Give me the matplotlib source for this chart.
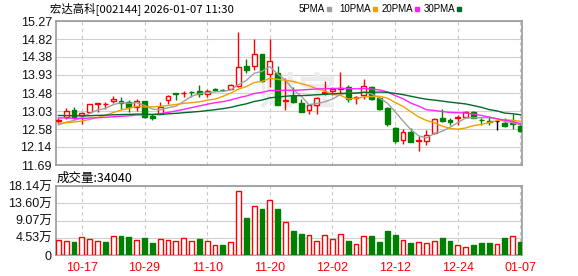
import matplotlib
matplotlib.use('Agg')
import matplotlib.pyplot as plt
from matplotlib.lines import Line2D
import numpy as np
import pandas as pd

plt.rcParams['font.family'] = ['Liberation Sans', 'Noto Sans CJK SC']

title = '宏达高科[002144] 2026-01-07 11:30'

# daily k-line, 2025-10-14 .. 2026-01-07
opens = [12.78, 12.89, 13.06, 12.93, 13.02, 13.21, 13.20, 13.29, 13.28, 13.26,
         13.14, 13.28, 12.90, 12.97, 13.30, 13.47, 13.48, 13.51, 13.52, 13.46,
         13.57, 13.565, 13.585, 13.65, 14.16, 14.16, 14.44, 13.96, 13.98, 13.28,
         13.40, 13.24, 13.05, 13.17, 13.48, 13.54, 13.58, 13.63, 13.345, 13.44,
         13.63, 13.36, 13.10, 12.62, 12.32, 12.50, 12.29, 12.29, 12.49, 12.85,
         12.80, 12.86, 12.88, 13.02, 12.81, 12.77, 12.78, 12.735, 12.73, 12.66]
closes = [12.80, 13.03, 12.85, 12.99, 13.20, 13.22, 13.21, 13.33, 13.24, 13.13,
          13.28, 12.89, 12.87, 13.13, 13.40, 13.46, 13.49, 13.50, 13.46, 13.53,
          13.56, 13.555, 13.67, 14.12, 14.06, 14.45, 13.79, 14.27, 13.19, 13.30,
          13.25, 13.02, 13.17, 13.36, 13.50, 13.59, 13.60, 13.33, 13.37, 13.65,
          13.34, 13.09, 12.70, 12.29, 12.51, 12.27, 12.31, 12.43, 12.84, 12.79,
          12.77, 12.88, 13.02, 12.86, 12.80, 12.76, 12.78, 12.65, 12.72, 12.53]
highs = [12.85, 13.10, 13.12, 13.02, 13.21, 13.23, 13.26, 13.40, 13.37, 13.30,
         13.34, 13.29, 12.97, 13.26, 13.44, 13.49, 13.54, 13.52, 13.67, 13.58,
         13.60, 13.58, 13.71, 15.00, 14.33, 14.82, 14.45, 14.82, 14.14, 13.85,
         13.62, 13.33, 13.21, 13.37, 13.79, 13.63, 13.99, 13.685, 13.40, 13.82,
         13.66, 13.38, 13.12, 12.63, 12.58, 12.61, 12.41, 12.55, 12.86, 13.09,
         12.86, 12.94, 13.04, 13.04, 12.86, 12.91, 12.80, 12.86, 12.97, 12.72]
lows = [12.73, 12.84, 12.84, 12.70, 13.00, 13.02, 13.07, 13.22, 13.07, 13.00,
        13.04, 12.87, 12.80, 12.95, 13.21, 13.30, 13.38, 13.38, 13.38, 13.38,
        13.52, 13.52, 13.57, 13.63, 13.98, 14.04, 13.75, 13.63, 13.17, 13.05,
        13.22, 13.00, 12.97, 12.97, 13.42, 13.42, 13.46, 13.26, 13.21, 13.34,
        13.30, 13.05, 12.66, 12.24, 12.22, 12.26, 12.03, 12.18, 12.47, 12.76,
        12.68, 12.68, 12.87, 12.85, 12.69, 12.68, 12.55, 12.64, 12.595, 12.51]
# volume in 万
volumes = [4.0, 3.75, 3.5, 4.7, 4.2, 3.75, 3.5, 5.0, 5.05, 4.8,
           4.0, 4.5, 3.2, 4.2, 4.0, 3.75, 4.45, 3.75, 4.1, 3.75,
           2.6, 2.7, 3.4, 16.7, 9.8, 12.8, 12.1, 14.4, 12.1, 8.6,
           6.4, 5.6, 5.2, 3.75, 5.2, 4.2, 5.5, 3.75, 2.9, 5.0,
           5.05, 3.5, 6.4, 5.3, 4.0, 3.2, 3.5, 3.2, 3.75, 4.5,
           3.75, 2.6, 2.2, 2.7, 3.2, 3.2, 3.0, 4.5, 5.05, 3.404]
last_volume = 34040
# closes before the first day shown (needed by the moving averages)
pre_closes = [13.04, 13.00, 13.12, 13.05, 12.95, 13.08, 13.02, 13.10, 12.98, 13.06,
              13.00, 13.10, 13.04, 12.96, 13.08, 13.02, 13.05, 12.98, 12.92, 12.85,
              12.79, 12.70, 12.74, 12.80, 12.72, 12.70, 12.64, 12.62, 12.68]

price_ticks = [11.69, 12.14, 12.58, 13.03, 13.48, 13.93, 14.38, 14.82, 15.27]
vol_ticks = [0, 4.53, 9.07, 13.60, 18.14]
vol_tick_labels = ['0', '4.53万', '9.07万', '13.60万', '18.14万']
date_labels = ['10-17', '10-29', '11-10', '11-20', '12-02', '12-12', '12-24', '01-07']
ma_windows = [5, 10, 20, 30]
ma_names = ['5PMA', '10PMA', '20PMA', '30PMA']
ma_colors = ['#a0a0a0', '#f0a000', '#ff22ff', '#006a2a']

RED = '#ff0000'
GREEN = '#008000'

dates = pd.bdate_range('2025-10-14', '2026-01-07')
dates = dates.drop(pd.to_datetime(['2026-01-01', '2026-01-02']))
labels = list(dates.strftime('%m-%d'))
x = np.arange(len(dates))
o = np.array(opens); c = np.array(closes)
h = np.array(highs); l = np.array(lows)
v = np.array(volumes)

all_close = pd.Series(pre_closes + closes)
n_pre = len(pre_closes)

fig = plt.figure(figsize=(5.78, 2.76), dpi=100)
ax = fig.add_axes([56/578, 1-165/276, 466/578, 144/276])
axv = fig.add_axes([56/578, 1-255/276, 466/578, 69/276])

tick_idx = [labels.index(d) for d in date_labels]

for a in (ax, axv):
    a.set_xlim(-0.3, len(x) - 0.8)
    for s in a.spines.values():
        s.set_color('#999999')
        s.set_linewidth(1.2)
    a.tick_params(length=0, labelsize=9, colors='#111111', pad=3)
    a.set_axisbelow(True)
    a.grid(axis='y', color='#d0d0d0', lw=0.8)
    for t in tick_idx:
        a.axvline(t, color='#c8c8c8', lw=0.8, ls=(0, (3, 3)), zorder=0)

# candles
ccol = np.where(c > o, RED, np.where(c < o, GREEN, '#000000'))
ax.vlines(x, l, h, colors=ccol, lw=1, zorder=2)
body_lo = np.minimum(o, c)
body_h = np.maximum(np.abs(c - o), 0.012)
face = np.where(c > o, 'white', ccol)
ax.bar(x, body_h, bottom=body_lo, width=0.62, color=face, edgecolor=ccol,
       linewidth=1, zorder=3)

for w, col in zip(ma_windows, ma_colors):
    ma = all_close.rolling(w).mean().values[n_pre:]
    ax.plot(x, ma, color=col, lw=1, zorder=4)

ax.set_ylim(price_ticks[0], price_ticks[-1])
ax.set_yticks(price_ticks)
ax.set_yticklabels(['%.2f' % p for p in price_ticks])
ax.set_xticks([])

ax.text(0.52, 0.5, '财宝', transform=ax.transAxes, fontsize=28,
        color='#ececec', ha='center', va='center', zorder=1,
        family='Noto Sans CJK SC', fontweight='bold')

# volume
prev = np.concatenate([[pre_closes[-1]], c[:-1]])
up = c >= prev
vcol = np.where(up, RED, GREEN)
vface = np.where(up, 'white', GREEN)
axv.bar(x, v, width=0.62, color=vface, edgecolor=vcol, linewidth=1, zorder=3)
axv.set_ylim(vol_ticks[0], vol_ticks[-1])
axv.set_yticks(vol_ticks)
axv.set_yticklabels(vol_tick_labels)
axv.set_xticks(tick_idx)
axv.set_xticklabels(date_labels, color=RED, fontsize=9)
axv.tick_params(axis='x', pad=5)

fig.text(50/578, 1-9/276, title, fontsize=8.2, va='center', ha='left',
         family=['Noto Sans CJK SC'])
fig.text(57/578, 1-178/276, '成交量:%d' % last_volume, fontsize=9,
         va='center', ha='left', family=['Noto Sans CJK SC'])

# legend row: label, then a small colour square
sq_x = [329, 375, 417, 459]
for sx, name, col in zip(sq_x, ma_names, ma_colors):
    fig.text((sx - 4)/578, 1-9/276, name, fontsize=7, va='center', ha='right')
    fig.add_artist(Line2D([sx/578], [1-9/276], marker='s', ms=3.5,
                          color=col, ls='none', transform=fig.transFigure))

fig.savefig('out.png', dpi=100, facecolor='white')
